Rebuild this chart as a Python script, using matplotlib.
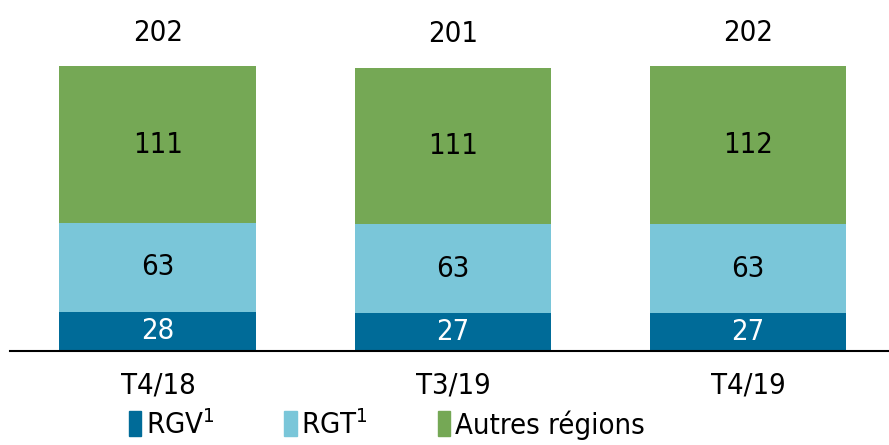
import matplotlib.pyplot as plt
from matplotlib.patches import Patch

# quarterly values per region
periods = ['T4/18', 'T3/19', 'T4/19']
rgv = [28, 27, 27]
rgt = [63, 63, 63]
autres = [111, 111, 112]
totals = [202, 201, 202]

series_names = ['RGV$^{1}$', 'RGT$^{1}$', 'Autres régions']
colors = ['#006b98', '#7ac6d9', '#75a855']

plt.rcParams['font.family'] = ['DejaVu Sans']
plt.rcParams['font.stretch'] = 'condensed'

fig = plt.figure(figsize=(8.89, 4.45), dpi=100)
ax = fig.add_axes([0.011, 0.211, 0.989, 0.789])

x = list(range(len(periods)))
w = 0.667
bottoms2 = [a + b for a, b in zip(rgv, rgt)]

ax.bar(x, rgv, w, color=colors[0])
ax.bar(x, rgt, w, bottom=rgv, color=colors[1])
ax.bar(x, autres, w, bottom=bottoms2, color=colors[2])

fs = 21
for i in x:
    ax.text(i, rgv[i] / 2, str(rgv[i]), ha='center', va='center',
            fontsize=fs, color='white', fontstretch='condensed')
    ax.text(i, rgv[i] + rgt[i] / 2, str(rgt[i]), ha='center', va='center',
            fontsize=fs, color='black', fontstretch='condensed')
    ax.text(i, bottoms2[i] + autres[i] / 2, str(autres[i]), ha='center', va='center',
            fontsize=fs, color='black', fontstretch='condensed')
    ax.annotate(str(totals[i]), (i, totals[i]), xytext=(0, 14), textcoords='offset points',
                ha='center', va='bottom', fontsize=fs, fontstretch='condensed')

ax.set_xlim(-0.502, 2.478)
ax.set_ylim(0, 249)
ax.set_xticks(x)
ax.set_xticklabels(periods, fontsize=fs, fontstretch='condensed')
ax.tick_params(axis='x', length=0, pad=15)
ax.set_yticks([])
for s in ['top', 'right', 'left']:
    ax.spines[s].set_visible(False)
ax.spines['bottom'].set_linewidth(1.5)

handles = [Patch(color=c) for c in colors]
fig.legend(handles, series_names, loc='center', bbox_to_anchor=(0.435, 0.045), ncol=3,
           frameon=False, handlelength=0.42, handleheight=0.95,
           handletextpad=0.15, columnspacing=2.4,
           prop={'size': fs, 'stretch': 'condensed'})

fig.savefig('out.png', dpi=100)
